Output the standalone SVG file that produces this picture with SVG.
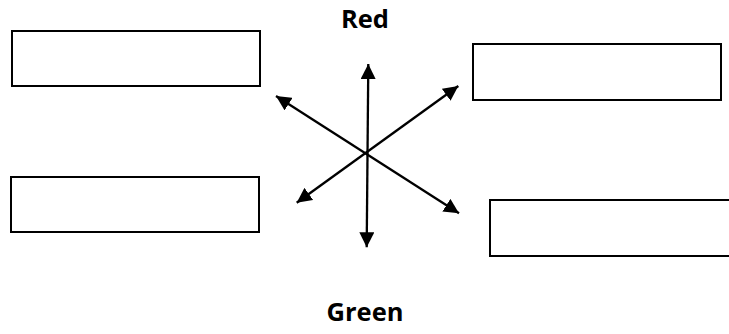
<svg xmlns="http://www.w3.org/2000/svg" width="729" height="334" viewBox="0 0 729 334">
  <style>
    .box { fill: #ffffff; stroke: #000000; stroke-width: 2; }
    .conn { stroke: #000000; stroke-width: 2.3; fill: none; marker-start: url(#arr); marker-end: url(#arr); }
    .label { font-family: "Open Sans", "Liberation Sans", Arial, sans-serif; font-weight: bold; font-size: 25.5px; fill: #000000; text-anchor: middle; }
  </style>
  <defs>
    <marker id="arr" viewBox="0 0 15 15" refX="15" refY="7.5" markerWidth="15" markerHeight="15" markerUnits="userSpaceOnUse" orient="auto-start-reverse">
      <path d="M0,0 L15,7.5 L0,15 z" fill="#000000"/>
    </marker>
  </defs>
  <rect width="729" height="334" fill="#ffffff"/>
  <g id="box-top-left"><rect class="box" x="12" y="31" width="248" height="55"/></g>
  <g id="box-top-right"><rect class="box" x="473" y="44" width="248" height="56"/></g>
  <g id="box-bottom-left"><rect class="box" x="11" y="177" width="248" height="55"/></g>
  <g id="box-bottom-right"><path class="box" d="M735,200 L490,200 L490,256 L735,256"/></g>
  <g id="label-red"><text class="label" x="365" y="28">Red</text></g>
  <g id="label-green"><text class="label" x="365" y="320.5">Green</text></g>
  <g id="connectors">
    <line class="conn" x1="366.7" y1="247.3" x2="368.3" y2="64"/>
    <line class="conn" x1="459" y1="213.3" x2="276" y2="96"/>
    <line class="conn" x1="296.7" y1="202.7" x2="458.3" y2="86"/>
  </g>
</svg>
